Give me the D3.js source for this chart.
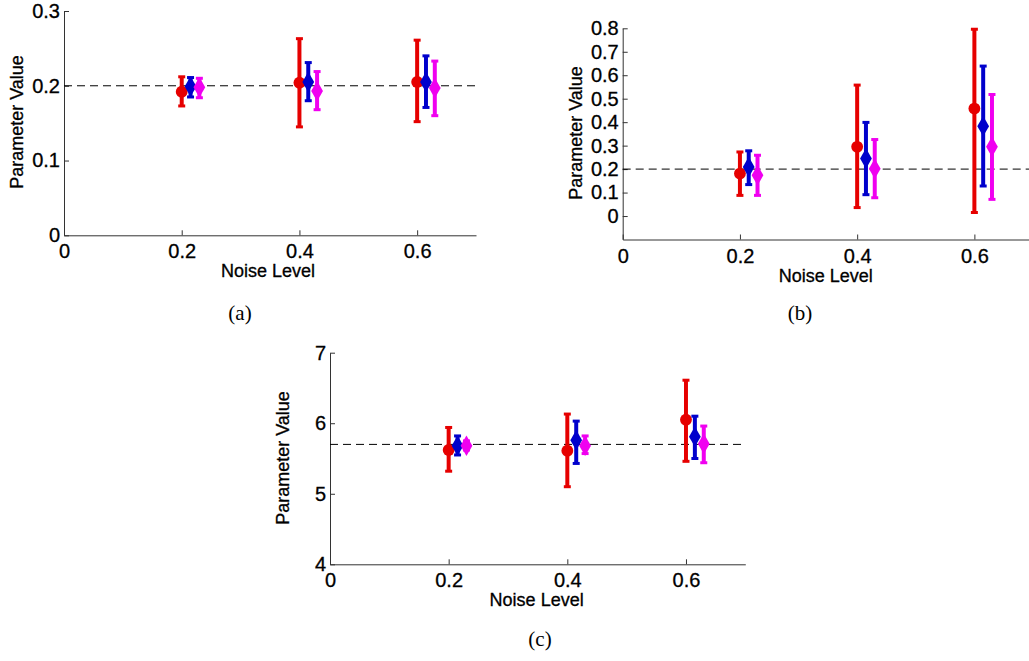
<!DOCTYPE html>
<html>
<head>
<meta charset="utf-8">
<script src="https://cdn.jsdelivr.net/npm/d3@7"></script>
<style>
  body { margin: 0; background: #fff; }
  svg { display: block; }
  .lab { font-family: "Liberation Sans", Arial, sans-serif; font-size: 18px; fill: #000; stroke: #000; stroke-width: 0.3px; }
  .cap { font-family: "Liberation Serif", "DejaVu Serif", serif; font-size: 21px; fill: #000; }
</style>
</head>
<body>
<div id="chart"></div>
<script>
const noise = [0.2, 0.4, 0.6];
const seriesNames = ["red", "blue", "magenta"];
const seriesOffset = [0, 0.015, 0.03];

// panel (a)
const aMean = [[0.192, 0.204, 0.205], [0.199, 0.205, 0.205], [0.198, 0.193, 0.197]];
const aLow  = [[0.173, 0.145, 0.152], [0.185, 0.180, 0.171], [0.184, 0.168, 0.160]];
const aHigh = [[0.212, 0.263, 0.261], [0.211, 0.231, 0.240], [0.210, 0.219, 0.233]];
const aTicks = [0, 0.1, 0.2, 0.3];

// panel (b)
const bMean = [[0.181, 0.295, 0.458], [0.209, 0.245, 0.383], [0.174, 0.202, 0.295]];
const bLow  = [[0.088, 0.036, 0.015], [0.134, 0.091, 0.128], [0.088, 0.078, 0.071]];
const bHigh = [[0.273, 0.558, 0.796], [0.278, 0.399, 0.639], [0.259, 0.326, 0.518]];
const bTicks = [0, 0.1, 0.2, 0.3, 0.4, 0.5, 0.6, 0.7, 0.8];

// panel (c)
const cMean = [[5.62, 5.61, 6.05], [5.68, 5.76, 5.81], [5.68, 5.68, 5.71]];
const cLow  = [[5.32, 5.10, 5.46], [5.55, 5.43, 5.50], [5.62, 5.57, 5.44]];
const cHigh = [[5.94, 6.13, 6.61], [5.82, 6.03, 6.10], [5.75, 5.82, 5.96]];
const cTicks = [4, 5, 6, 7];

const xTicks = [0, 0.2, 0.4, 0.6];
const trueValue = [0.2, 0.2, 5.7];

const colors = { red: "#e60000", blue: "#0000cc", magenta: "#f000f0" };

const W = 1029, H = 661;
const svg = d3.select("#chart").append("svg").attr("width", W).attr("height", H);

const styleAxis = a => {
    a.attr("font-family", "Liberation Sans, Arial, sans-serif").attr("font-size", 20);
    a.select(".domain").attr("stroke", "#333");
    a.selectAll(".tick line").attr("stroke", "#333");
    a.selectAll(".tick text").attr("fill", "#000").attr("stroke", "#000").attr("stroke-width", 0.3);
};

const drawPanel = (p) => {
    const x = d3.scaleLinear().domain([0, 0.7]).range([p.left, p.right]);
    const y = d3.scaleLinear().domain(p.yDomain).range([p.bottom, p.top]);
    const g = svg.append("g");

    g.append("g").attr("transform", `translate(0,${p.bottom})`)
        .call(d3.axisBottom(x).tickValues(xTicks).tickFormat(d3.format("")).tickSizeInner(-5).tickSizeOuter(0).tickPadding(9))
        .call(styleAxis);
    g.append("g").attr("transform", `translate(${p.left},0)`)
        .call(d3.axisLeft(y).tickValues(p.yTicks).tickFormat(d3.format("")).tickSizeInner(-5).tickSizeOuter(0).tickPadding(4))
        .call(styleAxis);

    // reference value
    g.append("line")
        .attr("x1", x(0)).attr("x2", x(0.7))
        .attr("y1", y(p.ref)).attr("y2", y(p.ref))
        .attr("stroke", "#000").attr("stroke-width", 1).attr("stroke-dasharray", "8,5");

    seriesNames.forEach((s, si) => {
        const pts = noise.map((n, i) => ({
            x: n + seriesOffset[si], m: p.mean[si][i], lo: p.low[si][i], hi: p.high[si][i]
        }));
        const sg = g.append("g");
        sg.selectAll(".bar").data(pts).join("line")
            .attr("x1", d => x(d.x)).attr("x2", d => x(d.x))
            .attr("y1", d => y(d.lo)).attr("y2", d => y(d.hi))
            .attr("stroke", colors[s]).attr("stroke-width", 4);
        ["lo", "hi"].forEach(k => {
            sg.selectAll(".cap-" + k).data(pts).join("line")
                .attr("x1", d => x(d.x) - 3.5).attr("x2", d => x(d.x) + 3.5)
                .attr("y1", d => y(d[k])).attr("y2", d => y(d[k]))
                .attr("stroke", colors[s]).attr("stroke-width", 3);
        });
        const sym = si === 0 ? d3.symbolCircle : d3.symbolDiamond;
        const size = si === 0 ? 110 : 120;
        sg.selectAll("path.mk").data(pts).join("path")
            .attr("class", "mk")
            .attr("transform", d => `translate(${x(d.x)},${y(d.m)})`)
            .attr("d", d3.symbol().type(sym).size(size))
            .attr("fill", colors[s]);
    });

    g.append("text").attr("class", "lab")
        .attr("x", (p.left + p.right) / 2 - (p.labShift || 0)).attr("y", p.bottom + 42)
        .attr("text-anchor", "middle").text("Noise Level");
    g.append("text").attr("class", "lab")
        .attr("transform", `translate(${p.left - 41},${p.yLabY}) rotate(-90)`)
        .attr("text-anchor", "middle").text("Parameter Value");
    g.append("text").attr("class", "cap")
        .attr("x", p.capX).attr("y", p.capY).attr("text-anchor", "middle").text(p.cap);
};

drawPanel({ left: 64, right: 476, top: 11, bottom: 235.3, yDomain: [0, 0.3], yTicks: aTicks,
    mean: aMean, low: aLow, high: aHigh, ref: trueValue[0], yLabY: 122, cap: "(a)", capX: 240, capY: 320, labShift: 2 });
drawPanel({ left: 622.7, right: 1033, top: 28.3, bottom: 239.5, yDomain: [-0.1, 0.8], yTicks: bTicks,
    mean: bMean, low: bLow, high: bHigh, ref: trueValue[1], yLabY: 133, cap: "(b)", capX: 800, capY: 320, labShift: 2 });
drawPanel({ left: 330, right: 745.3, top: 352.7, bottom: 564.3, yDomain: [4, 7], yTicks: cTicks,
    mean: cMean, low: cLow, high: cHigh, ref: trueValue[2], yLabY: 458, cap: "(c)", capX: 540, capY: 646, labShift: 1 });
</script>
</body>
</html>
